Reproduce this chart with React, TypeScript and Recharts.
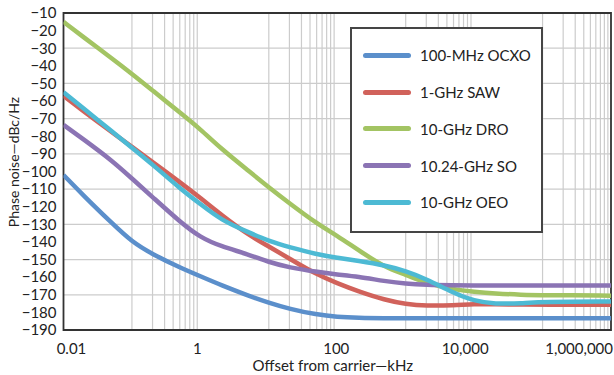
import { CartesianGrid, Label, Legend, Line, LineChart, ReferenceArea, XAxis, YAxis } from "recharts";

// offset from carrier, kHz
const offsets = [0.01, 0.02, 0.05, 0.1, 0.2, 0.5, 1, 2, 5, 10, 20, 50, 100, 200, 500, 1000, 2000, 5000, 10000, 20000, 50000, 100000, 1000000];

// phase noise, dBc/Hz
const ocxo100MHz = [-102, -114, -129, -140, -147, -154.5, -159.5, -164.5, -170.5, -174.5, -178, -181.3, -182.6, -183.1, -183.3, -183.3, -183.3, -183.3, -183.3, -183.3, -183.3, -183.3, -183.3];
const saw1GHz = [-57, -66, -77.5, -86, -94.5, -106, -115, -124.5, -136, -142.5, -149.5, -158.5, -163.5, -168, -173, -175.3, -176.3, -176, -175.3, -175.3, -175.6, -175.7, -175.7];
const dro10GHz = [-15, -24, -35.5, -44.5, -54, -66.5, -76, -87, -99.5, -109, -118, -129.5, -136.5, -144.5, -154.5, -158.5, -163.5, -167, -168.3, -169.3, -170, -170.2, -170.5];
const so1024GHz = [-73.5, -82, -93.5, -104, -114.5, -128.5, -137.5, -142.5, -147, -151.5, -154.5, -157, -158.5, -159.7, -162.3, -163.8, -164.4, -164.6, -164.7, -164.7, -164.7, -164.7, -164.7];
const oeo10GHz = [-55, -64.5, -77, -86.5, -96, -109.5, -118.5, -127.5, -134.5, -139.5, -143, -147, -149, -150.7, -153.3, -156.5, -161, -169, -173.5, -175.3, -174.8, -174, -173.8];

const xTicks = [0.01, 1, 100, 10000, 1000000];
const xTickLabels = ["0.01", "1", "100", "10,000", "1,000,000"];
const yTicks = [-10, -20, -30, -40, -50, -60, -70, -80, -90, -100, -110, -120, -130, -140, -150, -160, -170, -180, -190];
const hGrid = [-10, -30, -50, -70, -90, -110, -130, -150, -170, -190];
const vGrid = [0.1, 10, 1000, 100000].flatMap((d) => [1, 2, 3, 4, 5, 6, 7, 8, 9].map((k) => k * d));

// label nudges to match the original artwork (last one hugs the right edge)
const xLabelShift = [8, -3, -1, -9, 2];
const xLabelAnchor = ["middle", "middle", "middle", "middle", "end"];

const FONT = "Lato, 'Open Sans', sans-serif";
const TEXT = "#222";

const series = [
  { key: "ocxo", name: "100-MHz OCXO", color: "#5b8fcb", values: ocxo100MHz },
  { key: "saw", name: "1-GHz SAW", color: "#d1625b", values: saw1GHz },
  { key: "dro", name: "10-GHz DRO", color: "#a3c463", values: dro10GHz },
  { key: "so", name: "10.24-GHz SO", color: "#8b74b4", values: so1024GHz },
  { key: "oeo", name: "10-GHz OEO", color: "#4dbad4", values: oeo10GHz },
];

const data = offsets.map((offset, i) => {
  const row: Record<string, number> = { offset };
  series.forEach((s) => (row[s.key] = s.values[i]));
  return row;
});

function XTick(props: any) {
  const { x, y, payload } = props;
  const i = xTicks.indexOf(payload.value);
  return (
    <text x={x + xLabelShift[i]} y={y} dy={11} textAnchor={xLabelAnchor[i]} fill={TEXT} fontSize={15} fontFamily={FONT}>
      {xTickLabels[i]}
    </text>
  );
}

function YTitle(props: any) {
  const vb = props.viewBox;
  const cx = 13;
  const cy = vb.y + vb.height / 2 - 9.5;
  return (
    <text x={cx} y={cy} transform={`rotate(-90 ${cx} ${cy})`} textAnchor="middle" dominantBaseline="central" fill={TEXT} fontSize={14} fontFamily={FONT}>
      Phase noise—dBc/Hz
    </text>
  );
}

function XTitle(props: any) {
  const vb = props.viewBox;
  return (
    <text x={vb.x + vb.width / 2 - 4.5} y={371} textAnchor="middle" fill={TEXT} fontSize={15} fontFamily={FONT}>
      Offset from carrier—kHz
    </text>
  );
}

function LegendBox() {
  return (
    <div
      style={{
        width: 193,
        height: 206,
        boxSizing: "border-box",
        border: "2px solid #454545",
        background: "#fff",
        paddingTop: 8,
        fontFamily: FONT,
        fontSize: 15,
        color: TEXT,
      }}
    >
      {series.map((s) => (
        <div key={s.key} style={{ display: "flex", alignItems: "center", height: 36.75 }}>
          <span style={{ display: "inline-block", width: 48, height: 5, borderRadius: 3, background: s.color, marginLeft: 11 }} />
          <span style={{ marginLeft: 9, whiteSpace: "nowrap" }}>{s.name}</span>
        </div>
      ))}
    </div>
  );
}

export default function App() {
  return (
    <div style={{ position: "absolute", left: 0, top: 0, fontFamily: FONT }}>
      <LineChart width={614} height={375} data={data} margin={{ top: 13, right: 3, bottom: 0, left: 0 }}>
        <CartesianGrid horizontalValues={hGrid} verticalValues={vGrid} stroke="#cccccc" strokeWidth={1.2} />
        <XAxis
          dataKey="offset"
          type="number"
          scale="log"
          domain={[0.01, 1000000]}
          ticks={xTicks}
          allowDataOverflow
          height={45}
          tickLine={false}
          axisLine={false}
          tickSize={0}
          tickMargin={13}
          tick={<XTick />}
          interval={0}
        >
          <Label content={<XTitle />} />
        </XAxis>
        <YAxis
          type="number"
          domain={[-190, -10]}
          ticks={yTicks}
          interval={0}
          width={63.5}
          tickLine={false}
          axisLine={false}
          tickSize={0}
          tickMargin={7}
          tick={{ fill: TEXT, fontSize: 15, fontFamily: FONT }}
          tickFormatter={(v: number) => String(v).replace("-", "\u2212")}
        >
          <Label content={<YTitle />} />
        </YAxis>
        {series.map((s) => (
          <Line
            key={s.key}
            type="basis"
            dataKey={s.key}
            name={s.name}
            stroke={s.color}
            strokeWidth={4.5}
            dot={false}
            activeDot={false}
            isAnimationActive={false}
          />
        ))}
        <ReferenceArea x1={0.01} x2={1000000} y1={-190} y2={-10} fill="none" stroke="#333" strokeWidth={1.8} ifOverflow="visible" />
        <Legend
          layout="vertical"
          align="center"
          verticalAlign="middle"
          wrapperStyle={{ left: 350, top: 27, width: 193, height: 206 }}
          content={() => <LegendBox />}
        />
      </LineChart>
    </div>
  );
}
